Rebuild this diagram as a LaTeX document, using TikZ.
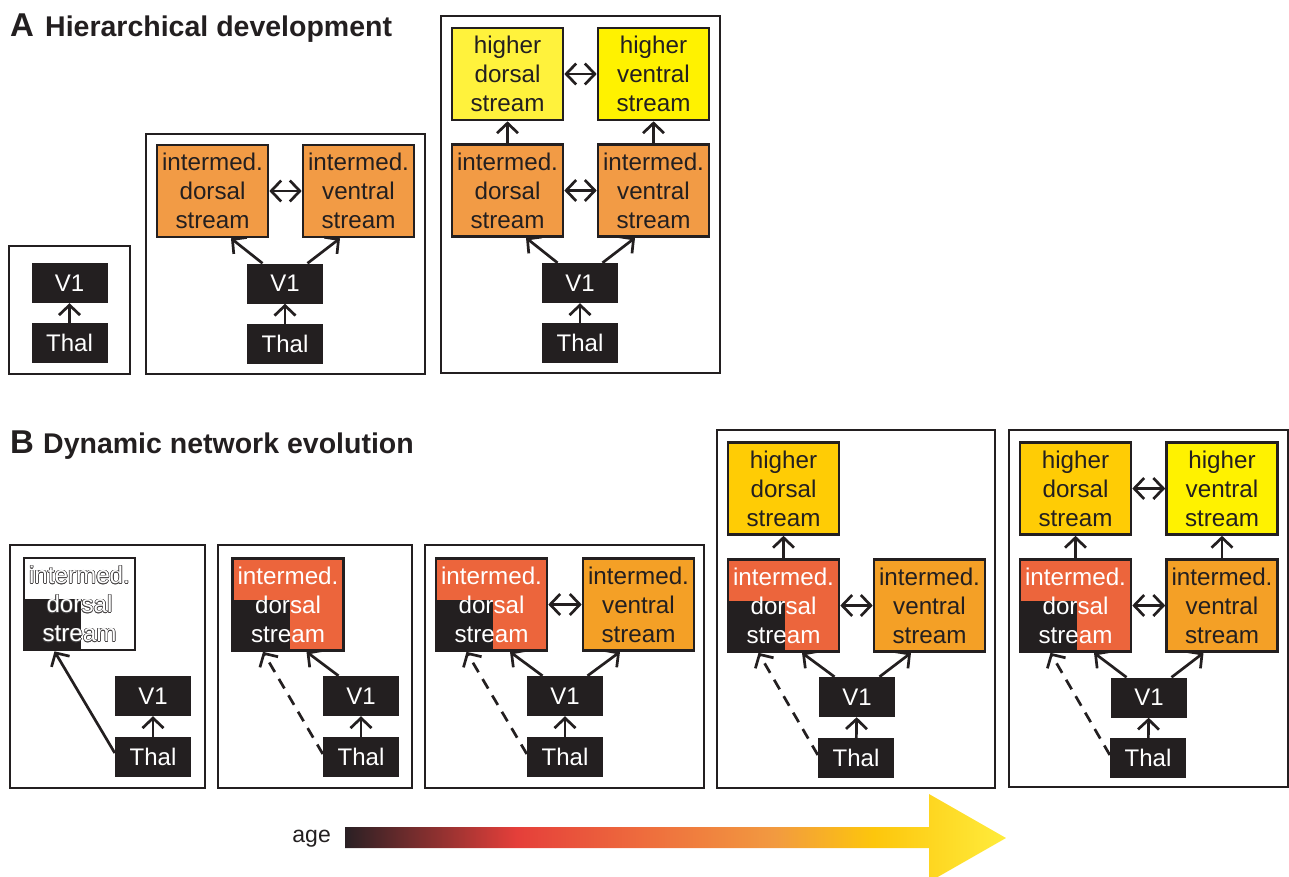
\documentclass[tikz,border=0pt]{standalone}
\usepackage{fontspec}
\setmainfont{Liberation Sans}
\usetikzlibrary{arrows.meta,calc}

\definecolor{ink}{HTML}{231F20}
\definecolor{midA}{HTML}{F29B45}
\definecolor{hiDorsA}{HTML}{FFF23C}
\definecolor{hiVent}{HTML}{FFF200}
\definecolor{midDors}{HTML}{EC653C}
\definecolor{midVent}{HTML}{F4A026}
\definecolor{hiDors}{HTML}{FFCC05}
\definecolor{ageA}{HTML}{2A2024}
\definecolor{ageB}{HTML}{E53F3A}
\definecolor{ageC}{HTML}{EE6C3D}
\definecolor{ageD}{HTML}{F29A40}
\definecolor{ageE}{HTML}{FDC60C}
\definecolor{ageF}{HTML}{FFEC3C}

\pgfdeclarehorizontalshading{agegrad}{100bp}{color(0bp)=(ageA); color(25bp)=(ageA);
  color(38bp)=(ageB); color(47.5bp)=(ageC); color(57.5bp)=(ageD);
  color(65bp)=(ageE); color(75bp)=(ageF); color(100bp)=(ageF)}

\newcommand\streamfont{\fontsize{24.2}{29}\selectfont}

% white lettering with a thin dark halo
\newcommand\haloText[2]{%
  \foreach \ang in {0,30,...,330}{%
    \node[font=\streamfont, text=ink!85, align=center] at ([shift={(\ang:0.6)}]#1) {#2};}%
  \node[font=\streamfont, text=white, align=center] at (#1) {#2};}

\begin{document}
\begin{tikzpicture}[x=1pt, y=-1pt,
  >={Straight Barb[length=10pt,width=21pt]},
  panel/.style={draw=ink, line width=2.2pt},
  stream/.style={draw=ink, line width=2.6pt, minimum width=111pt, minimum height=92pt,
    inner sep=0pt, align=center, font=\streamfont, text=ink},
  relay/.style={fill=ink, minimum width=76pt, minimum height=40pt, inner sep=0pt,
    text=white, font=\fontsize{24}{24}\selectfont},
  split/.style={text=white, path picture={\fill[ink] (path picture bounding box.south west)
    rectangle ([shift={(57,-51)}]path picture bounding box.south west);}},
  link/.style={draw=ink, line width=2.7pt, ->},
  both/.style={draw=ink, line width=2.7pt, <->},
  faint/.style={draw=ink, line width=2.7pt, ->, dash pattern=on 11pt off 8pt},
  title/.style={anchor=base west, inner sep=0pt, text=ink,
    font=\fontsize{28.5}{28.5}\selectfont\bfseries},
  letter/.style={anchor=base west, inner sep=0pt, text=ink,
    font=\fontsize{33}{33}\selectfont\bfseries}]

\useasboundingbox (0,0) rectangle (1289,876);

% ---------------- A: hierarchical development ----------------
\node[letter] (la) at (10,36) {A};
\node[title] (ta) at (45,36) {Hierarchical development};

\draw[panel] (9,246) rectangle (130,374);
\node[relay] (a1p) at (69.5,283) {V1};
\node[relay] (a1t) at (69.5,343) {Thal};
\draw[link] (a1t) -- (a1p);

\draw[panel] (146,134) rectangle (425,374);
\node[stream, fill=midA] (a2d) at (212.5,191) {intermed.\\dorsal\\stream};
\node[stream, fill=midA] (a2v) at (358.5,191) {intermed.\\ventral\\stream};
\node[relay] (a2p) at (285,283.5) {V1};
\node[relay] (a2t) at (285,344) {Thal};
\draw[link] (a2t) -- (a2p);
\draw[link] ($(a2p.north)+(-22.5,0)$) -- ($(a2d.south)+(18.5,0)$);
\draw[link] ($(a2p.north)+(22.5,0)$) -- ($(a2v.south)+(-18.5,0)$);
\draw[both] (a2d) -- (a2v);

\draw[panel] (441,16) rectangle (720,373);
\node[stream, fill=hiDorsA] (a3hd) at (507.5,74) {higher\\dorsal\\stream};
\node[stream, fill=hiVent] (a3hv) at (653.5,74) {higher\\ventral\\stream};
\node[stream, fill=midA] (a3d) at (507.5,190.5) {intermed.\\dorsal\\stream};
\node[stream, fill=midA] (a3v) at (653.5,190.5) {intermed.\\ventral\\stream};
\node[relay] (a3p) at (580,283) {V1};
\node[relay] (a3t) at (580,343) {Thal};
\draw[link] (a3t) -- (a3p);
\draw[link] ($(a3p.north)+(-22.5,0)$) -- ($(a3d.south)+(18.5,0)$);
\draw[link] ($(a3p.north)+(22.5,0)$) -- ($(a3v.south)+(-18.5,0)$);
\draw[link] (a3d) -- (a3hd);
\draw[link] (a3v) -- (a3hv);
\draw[both] (a3d) -- (a3v);
\draw[both] (a3hd) -- (a3hv);

% ---------------- B: dynamic network evolution ----------------
\node[letter] (lb) at (10,453) {B};
\node[title] (tb) at (43,453) {Dynamic network evolution};

% stage 1
\draw[panel] (10,545) rectangle (205,788);
\node[stream, fill=white, split] (b1d) at (79.5,604) {};
\haloText{b1d}{intermed.\\dorsal\\stream}
\node[relay] (b1p) at (153,696) {V1};
\node[relay] (b1t) at (153,757) {Thal};
\draw[link] (b1t) -- (b1p);
\draw[link] ($(b1t.west)+(0,-4)$) -- ($(b1d.south)+(-25,0)$);

% stage 2
\draw[panel] (218,545) rectangle (412,788);
\node[stream, fill=midDors, split] (b2d) at (288,604.5) {intermed.\\dorsal\\stream};
\node[relay] (b2p) at (361,696) {V1};
\node[relay] (b2t) at (361,757) {Thal};
\draw[link] (b2t) -- (b2p);
\draw[link] ($(b2p.north)+(-22.5,0)$) -- ($(b2d.south)+(18.5,0)$);
\draw[faint] ($(b2t.west)+(0,-3)$) -- ($(b2d.south)+(-25,0)$);

% stage 3
\draw[panel] (425,545) rectangle (704,788);
\node[stream, fill=midDors, split] (b3d) at (491.5,604.5) {intermed.\\dorsal\\stream};
\node[stream, fill=midVent] (b3v) at (638.5,604.5) {intermed.\\ventral\\stream};
\node[relay] (b3p) at (565,696) {V1};
\node[relay] (b3t) at (565,757) {Thal};
\draw[link] (b3t) -- (b3p);
\draw[link] ($(b3p.north)+(-22.5,0)$) -- ($(b3d.south)+(18.5,0)$);
\draw[link] ($(b3p.north)+(22.5,0)$) -- ($(b3v.south)+(-18.5,0)$);
\draw[both] (b3d) -- (b3v);
\draw[faint] ($(b3t.west)+(0,-3)$) -- ($(b3d.south)+(-25,0)$);

% stage 4
\draw[panel] (717,430) rectangle (995,788);
\node[stream, fill=hiDors] (b4hd) at (783.5,488.5) {higher\\dorsal\\stream};
\node[stream, fill=midDors, split] (b4d) at (783.5,605.5) {intermed.\\dorsal\\stream};
\node[stream, fill=midVent] (b4v) at (929.5,605.5) {intermed.\\ventral\\stream};
\node[relay] (b4p) at (857,697) {V1};
\node[relay] (b4t) at (856,758) {Thal};
\draw[link] (b4t) -- (b4p);
\draw[link] ($(b4p.north)+(-22.5,0)$) -- ($(b4d.south)+(18.5,0)$);
\draw[link] ($(b4p.north)+(22.5,0)$) -- ($(b4v.south)+(-18.5,0)$);
\draw[link] (b4d) -- (b4hd);
\draw[both] (b4d) -- (b4v);
\draw[faint] ($(b4t.west)+(0,-3)$) -- ($(b4d.south)+(-25,0)$);

% stage 5
\draw[panel] (1009,430) rectangle (1288,787);
\node[stream, fill=hiDors] (b5hd) at (1075.5,488.5) {higher\\dorsal\\stream};
\node[stream, fill=hiVent] (b5hv) at (1222,488.5) {higher\\ventral\\stream};
\node[stream, fill=midDors, split] (b5d) at (1075.5,605.5) {intermed.\\dorsal\\stream};
\node[stream, fill=midVent] (b5v) at (1222,605.5) {intermed.\\ventral\\stream};
\node[relay] (b5p) at (1149,697.5) {V1};
\node[relay] (b5t) at (1148,758) {Thal};
\draw[link] (b5t) -- (b5p);
\draw[link] ($(b5p.north)+(-22.5,0)$) -- ($(b5d.south)+(18.5,0)$);
\draw[link] ($(b5p.north)+(22.5,0)$) -- ($(b5v.south)+(-18.5,0)$);
\draw[link] (b5d) -- (b5hd);
\draw[link] (b5v) -- (b5hv);
\draw[both] (b5d) -- (b5v);
\draw[both] (b5hd) -- (b5hv);
\draw[faint] ($(b5t.west)+(0,-3)$) -- ($(b5d.south)+(-25,0)$);

% ---------------- age axis ----------------
\node[anchor=base east, inner sep=0pt, text=ink, font=\fontsize{23}{23}\selectfont]
  (age) at (331,842) {age};
\shade[shading=agegrad] (345,827) -- (929,827) -- (929,794) -- (1006,838)
  -- (929,882) -- (929,848) -- (345,848) -- cycle;

\end{tikzpicture}
\end{document}
